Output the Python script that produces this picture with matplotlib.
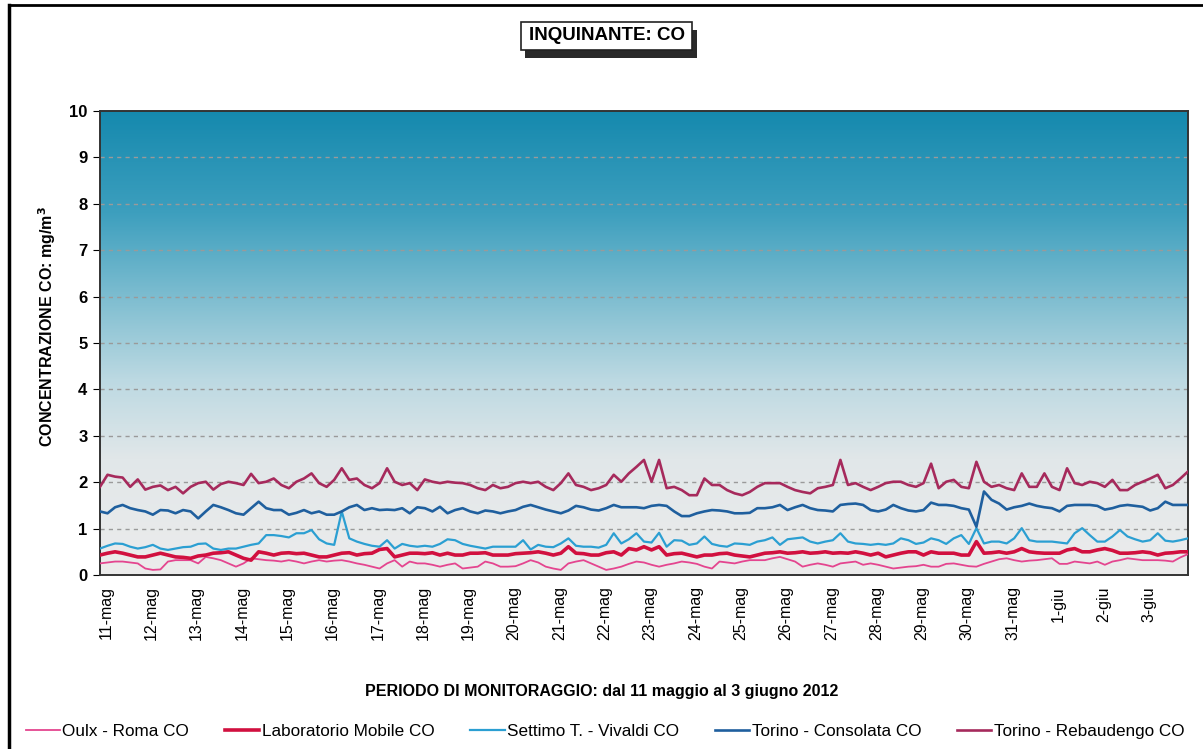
import numpy as np
import matplotlib
matplotlib.use('Agg')
import matplotlib.pyplot as plt
import matplotlib.transforms as mtransforms
from matplotlib.colors import LinearSegmentedColormap
from matplotlib.patches import Rectangle

# day labels (one per day, data every 4 hours)
days = ["11-mag", "12-mag", "13-mag", "14-mag", "15-mag", "16-mag", "17-mag",
        "18-mag", "19-mag", "20-mag", "21-mag", "22-mag", "23-mag", "24-mag",
        "25-mag", "26-mag", "27-mag", "28-mag", "29-mag", "30-mag", "31-mag",
        "1-giu", "2-giu", "3-giu"]

oulx = [0.25, 0.27, 0.29, 0.29, 0.27, 0.25,
        0.14, 0.11, 0.12, 0.29, 0.32, 0.32,
        0.32, 0.25, 0.39, 0.36, 0.32, 0.25,
        0.18, 0.25, 0.36, 0.34, 0.32, 0.31,
        0.29, 0.32, 0.29, 0.25, 0.29, 0.32,
        0.29, 0.31, 0.32, 0.29, 0.25, 0.22,
        0.18, 0.14, 0.25, 0.32, 0.18, 0.29,
        0.25, 0.25, 0.22, 0.18, 0.22, 0.25,
        0.14, 0.16, 0.18, 0.29, 0.25, 0.18,
        0.18, 0.19, 0.25, 0.32, 0.27, 0.18,
        0.14, 0.11, 0.25, 0.29, 0.32, 0.25,
        0.18, 0.11, 0.14, 0.18, 0.24, 0.29,
        0.27, 0.22, 0.18, 0.22, 0.25, 0.29,
        0.27, 0.24, 0.18, 0.14, 0.29, 0.27,
        0.25, 0.29, 0.32, 0.32, 0.32, 0.36,
        0.39, 0.34, 0.29, 0.18, 0.22, 0.25,
        0.22, 0.18, 0.25, 0.27, 0.29, 0.22,
        0.25, 0.22, 0.18, 0.14, 0.16, 0.18,
        0.19, 0.22, 0.18, 0.18, 0.24, 0.25,
        0.22, 0.19, 0.18, 0.24, 0.29, 0.34,
        0.36, 0.32, 0.29, 0.31, 0.32, 0.34,
        0.36, 0.24, 0.24, 0.29, 0.27, 0.25,
        0.29, 0.22, 0.29, 0.32, 0.36, 0.34,
        0.32, 0.32, 0.32, 0.31, 0.29, 0.38,
        0.45]

lab_mobile = [0.43, 0.47, 0.50, 0.47, 0.43, 0.39,
              0.39, 0.43, 0.47, 0.43, 0.39, 0.38,
              0.36, 0.41, 0.43, 0.47, 0.48, 0.50,
              0.43, 0.36, 0.32, 0.50, 0.47, 0.43,
              0.47, 0.48, 0.46, 0.47, 0.43, 0.39,
              0.39, 0.43, 0.47, 0.48, 0.43, 0.46,
              0.47, 0.55, 0.57, 0.39, 0.43, 0.47,
              0.47, 0.46, 0.48, 0.43, 0.47, 0.43,
              0.43, 0.47, 0.47, 0.48, 0.43, 0.43,
              0.43, 0.46, 0.47, 0.48, 0.50, 0.47,
              0.43, 0.47, 0.61, 0.47, 0.46, 0.43,
              0.43, 0.48, 0.50, 0.43, 0.57, 0.54,
              0.61, 0.54, 0.61, 0.43, 0.46, 0.47,
              0.43, 0.39, 0.43, 0.43, 0.46, 0.47,
              0.43, 0.41, 0.39, 0.43, 0.47, 0.48,
              0.50, 0.47, 0.48, 0.50, 0.47, 0.48,
              0.50, 0.47, 0.48, 0.47, 0.50, 0.47,
              0.43, 0.47, 0.39, 0.43, 0.47, 0.50,
              0.50, 0.43, 0.50, 0.47, 0.47, 0.47,
              0.43, 0.43, 0.72, 0.47, 0.48, 0.50,
              0.47, 0.50, 0.57, 0.50, 0.48, 0.47,
              0.47, 0.47, 0.54, 0.57, 0.50, 0.50,
              0.54, 0.57, 0.53, 0.47, 0.47, 0.48,
              0.50, 0.48, 0.43, 0.47, 0.48, 0.50,
              0.50]

settimo = [0.57, 0.63, 0.68, 0.67, 0.61, 0.57,
           0.60, 0.65, 0.57, 0.54, 0.57, 0.60,
           0.61, 0.67, 0.68, 0.57, 0.54, 0.57,
           0.57, 0.61, 0.65, 0.68, 0.86, 0.86,
           0.84, 0.81, 0.90, 0.90, 0.97, 0.77,
           0.68, 0.65, 1.37, 0.79, 0.72, 0.67,
           0.63, 0.61, 0.75, 0.57, 0.67, 0.63,
           0.61, 0.63, 0.61, 0.67, 0.77, 0.75,
           0.67, 0.63, 0.60, 0.57, 0.61, 0.61,
           0.61, 0.61, 0.75, 0.55, 0.65, 0.61,
           0.60, 0.68, 0.79, 0.63, 0.61, 0.61,
           0.59, 0.65, 0.90, 0.68, 0.77, 0.90,
           0.72, 0.70, 0.91, 0.61, 0.75, 0.74,
           0.65, 0.68, 0.83, 0.67, 0.63, 0.61,
           0.68, 0.67, 0.65, 0.72, 0.75, 0.81,
           0.65, 0.77, 0.79, 0.81, 0.72, 0.68,
           0.72, 0.75, 0.90, 0.72, 0.68, 0.67,
           0.65, 0.67, 0.65, 0.68, 0.79, 0.75,
           0.67, 0.70, 0.79, 0.75, 0.67, 0.79,
           0.86, 0.67, 1.01, 0.68, 0.72, 0.72,
           0.68, 0.79, 1.01, 0.75, 0.72, 0.72,
           0.72, 0.70, 0.68, 0.90, 1.01, 0.86,
           0.72, 0.72, 0.83, 0.97, 0.83, 0.77,
           0.72, 0.75, 0.90, 0.74, 0.72, 0.75,
           0.79]

consolata = [1.37, 1.33, 1.46, 1.51, 1.44, 1.40,
             1.37, 1.30, 1.40, 1.39, 1.33, 1.40,
             1.37, 1.22, 1.37, 1.51, 1.46, 1.40,
             1.33, 1.30, 1.44, 1.58, 1.44, 1.40,
             1.40, 1.30, 1.34, 1.40, 1.33, 1.37,
             1.30, 1.30, 1.37, 1.46, 1.51, 1.40,
             1.44, 1.40, 1.41, 1.40, 1.44, 1.33,
             1.46, 1.44, 1.37, 1.47, 1.33, 1.40,
             1.44, 1.37, 1.33, 1.39, 1.37, 1.33,
             1.37, 1.40, 1.47, 1.51, 1.46, 1.41,
             1.37, 1.33, 1.39, 1.49, 1.46, 1.41,
             1.39, 1.44, 1.51, 1.46, 1.46, 1.46,
             1.44, 1.49, 1.51, 1.49, 1.37, 1.27,
             1.27, 1.33, 1.37, 1.40, 1.39, 1.37,
             1.33, 1.33, 1.34, 1.44, 1.44, 1.46,
             1.51, 1.40, 1.46, 1.51, 1.44, 1.40,
             1.39, 1.37, 1.51, 1.53, 1.54, 1.51,
             1.40, 1.37, 1.41, 1.51, 1.44, 1.39,
             1.37, 1.40, 1.56, 1.51, 1.51, 1.49,
             1.44, 1.41, 1.04, 1.80, 1.62, 1.54,
             1.41, 1.46, 1.49, 1.54, 1.49, 1.46,
             1.44, 1.37, 1.49, 1.51, 1.51, 1.51,
             1.49, 1.41, 1.44, 1.49, 1.51, 1.49,
             1.47, 1.39, 1.44, 1.58, 1.51, 1.51,
             1.51]

rebaudengo = [1.90, 2.16, 2.12, 2.10, 1.90, 2.06,
              1.84, 1.90, 1.93, 1.83, 1.90, 1.76,
              1.90, 1.98, 2.01, 1.84, 1.96, 2.01,
              1.98, 1.94, 2.18, 1.98, 2.01, 2.08,
              1.94, 1.87, 2.01, 2.08, 2.19, 1.98,
              1.90, 2.05, 2.30, 2.05, 2.08, 1.94,
              1.87, 1.98, 2.30, 2.01, 1.94, 1.98,
              1.83, 2.06, 2.01, 1.98, 2.01, 1.99,
              1.98, 1.94, 1.87, 1.83, 1.94, 1.87,
              1.90, 1.98, 2.01, 1.98, 2.01, 1.90,
              1.83, 1.98, 2.19, 1.94, 1.90, 1.83,
              1.87, 1.94, 2.16, 2.01, 2.19, 2.33,
              2.48, 2.01, 2.48, 1.87, 1.90, 1.83,
              1.72, 1.72, 2.08, 1.94, 1.94, 1.83,
              1.76, 1.72, 1.79, 1.90, 1.98, 1.98,
              1.98, 1.90, 1.83, 1.79, 1.76, 1.87,
              1.90, 1.94, 2.48, 1.94, 1.98, 1.90,
              1.83, 1.90, 1.98, 2.01, 2.01, 1.94,
              1.90, 1.98, 2.40, 1.87, 2.01, 2.05,
              1.90, 1.87, 2.44, 2.01, 1.90, 1.94,
              1.87, 1.83, 2.19, 1.90, 1.90, 2.19,
              1.90, 1.83, 2.30, 1.98, 1.94, 2.01,
              1.98, 1.90, 2.05, 1.83, 1.83, 1.94,
              2.01, 2.08, 2.16, 1.87, 1.94, 2.08,
              2.23]

series = [("Oulx - Roma CO", oulx, "#e4458f", 1.3),
          ("Laboratorio Mobile CO", lab_mobile, "#d1103f", 2.6),
          ("Settimo T. - Vivaldi CO", settimo, "#2b9fd2", 1.6),
          ("Torino - Consolata CO", consolata, "#1f5f9e", 1.9),
          ("Torino - Rebaudengo CO", rebaudengo, "#a62a5c", 1.9)]

plt.rcParams['font.family'] = ['Liberation Sans', 'DejaVu Sans']

fig = plt.figure(figsize=(12.03, 7.49), dpi=100)
ax = fig.add_axes([0.0831, 0.2323, 0.9044, 0.6195])

# background gradient of the plot area
grad_cmap = LinearSegmentedColormap.from_list(
    "bg", [(0.0, "#ececec"), (0.25, "#e1e7e9"), (0.42, "#bcd9e2"),
           (0.58, "#84c0d2"), (0.78, "#3d9fbe"), (1.0, "#1589ae")])
grad = np.linspace(0, 1, 256).reshape(-1, 1)
ax.imshow(grad, extent=[0, 24, 0, 10], aspect='auto', cmap=grad_cmap,
          origin='lower', zorder=0)

for yv in range(1, 10):
    ax.axhline(yv, color='#9a9a9a', lw=1.0, ls=(0, (3, 3)), zorder=1)

hours = np.arange(len(oulx)) / 6.0
for name, vals, col, lw in series:
    ax.plot(hours, vals, color=col, lw=lw, label=name, zorder=3)

ax.set_xlim(0, 24)
ax.set_ylim(0, 10)
ax.set_yticks(range(0, 11))
ax.set_yticklabels([str(v) for v in range(0, 11)], fontsize=12, fontweight='bold')
ax.set_xticks(range(len(days)))
ax.set_xticklabels(days, rotation=90, fontsize=11.5)
ax.tick_params(axis='x', length=0, pad=8)
ax.tick_params(axis='y', length=5, direction='out', pad=4)
# labels sit a little right of the day start
shift = mtransforms.ScaledTranslation(6 / 100, 0, fig.dpi_scale_trans)
for lbl in ax.get_xticklabels():
    lbl.set_transform(lbl.get_transform() + shift)
for sp in ax.spines.values():
    sp.set_color('#333333')
    sp.set_linewidth(1.4)

ax.set_ylabel("CONCENTRAZIONE CO: mg/m$^{\\mathbf{3}}$", fontsize=11.5,
              fontweight='bold', labelpad=5)
ax.yaxis.set_label_coords(-0.039, 0.535)
fig.text(0.5, 0.0768, "PERIODO DI MONITORAGGIO: dal 11 maggio al 3 giugno 2012",
         ha='center', va='center', fontsize=11.5, fontweight='bold')

# title box with a small drop shadow
fig.add_artist(Rectangle((0.4365, 0.9225), 0.1425, 0.0374, transform=fig.transFigure,
                         fc='#2a2a2a', ec='none', zorder=1))
fig.add_artist(Rectangle((0.4331, 0.9332), 0.1421, 0.0374, transform=fig.transFigure,
                         fc='white', ec='#222222', lw=1.2, zorder=2))
fig.text(0.5042, 0.952, "INQUINANTE: CO", ha='center', va='center',
         fontsize=13.5, fontweight='bold', zorder=3)

# outer frame lines
fig.add_artist(plt.Line2D([0.0075, 0.0075], [0.0, 0.993], color='black', lw=2.5,
                          transform=fig.transFigure))
fig.add_artist(plt.Line2D([0.0075, 1.0], [0.993, 0.993], color='black', lw=2.0,
                          transform=fig.transFigure))

fig.legend(loc='center', bbox_to_anchor=(0.503, 0.024), ncol=5, frameon=False,
           fontsize=12.3, handlelength=2.0, handletextpad=0.15, columnspacing=2.1)

plt.savefig("out.png", dpi=100)
